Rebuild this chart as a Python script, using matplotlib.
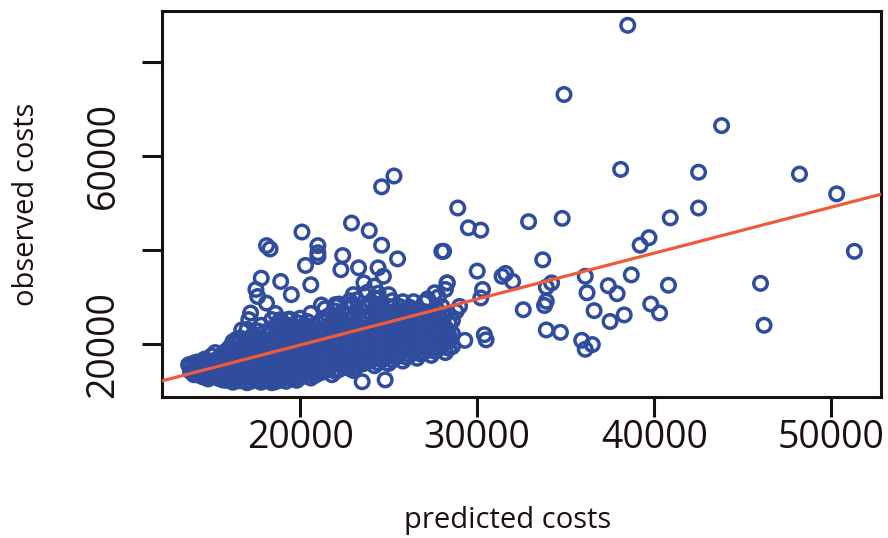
import matplotlib
matplotlib.use("Agg")
import matplotlib.pyplot as plt

# dense band of cases: predicted cost -> observed costs
band_columns = [
    (13800, [14200, 15600]),
    (14200, [13500, 15000, 16200]),
    (14600, [12900, 14000, 15300, 16800]),
    (15000, [13200, 14600, 16000, 17500]),
    (15400, [12700, 14100, 15500, 17000]),
    (15800, [12300, 13800, 15200, 16800, 18500]),
    (16200, [11900, 13500, 15000, 16600, 18200, 20000]),
    (16600, [12200, 13900, 15500, 17200, 19100, 21300]),
    (17000, [11800, 13400, 15100, 16800, 18600, 20500, 23100]),
    (17400, [12500, 14200, 15900, 17700, 19500, 22000]),
    (17800, [11900, 13600, 15400, 17300, 19200, 21200, 24000]),
    (18200, [12400, 14300, 16200, 18100, 20100, 22300]),
    (18600, [12000, 13800, 15700, 17600, 19600, 21600, 23800, 26500]),
    (19000, [12600, 14500, 16400, 18400, 20400, 22500]),
    (19400, [13000, 15000, 17000, 19000, 21000, 23200, 25300]),
    (19800, [12300, 14200, 16300, 18300, 20300, 22400, 24600]),
    (20200, [13300, 15400, 17500, 19600, 21700, 23900]),
    (20600, [12800, 14800, 16900, 19000, 21100, 23300, 26500]),
    (21000, [13700, 15800, 17900, 20000, 22200, 24400]),
    (21400, [14300, 16400, 18500, 20700, 22900, 25100, 27500]),
    (21800, [13500, 15600, 17800, 20000, 22200, 24500]),
    (22200, [14600, 16800, 19000, 21200, 23500, 25800, 28500]),
    (22600, [15100, 17300, 19500, 21800, 24100, 26400]),
    (23000, [14400, 16600, 18900, 21200, 23500, 25900, 28300, 30500]),
    (23400, [15700, 18000, 20300, 22600, 25000, 27400]),
    (23800, [16200, 18500, 20800, 23200, 25600, 28000, 31000]),
    (24200, [15400, 17700, 20100, 22500, 24900, 27300, 29800]),
    (24600, [16600, 19000, 21400, 23800, 26200, 28600]),
    (25000, [15900, 18200, 20600, 23000, 25500, 28000, 30500]),
    (25400, [17200, 19600, 22000, 24500, 27000]),
    (25800, [16400, 18800, 21300, 23800, 26300, 29000]),
    (26200, [17700, 20200, 22700, 25200, 27800]),
    (26600, [17000, 19500, 22000, 24600, 27200]),
    (27000, [18300, 20800, 23400, 26000, 28800]),
    (27400, [17600, 20100, 22700, 25300]),
    (27800, [19000, 21600, 24200, 27000, 30000]),
    (28200, [18200, 20800, 23500, 26200]),
    (28600, [19500, 22200, 25000]),
    # second pass over the same band, between the first columns
    (14000, [14600, 16000]),
    (14400, [13200, 14500, 15800]),
    (14800, [12600, 13700, 15000, 16400]),
    (15200, [13800, 15200, 16600, 18200]),
    (15600, [12400, 13400, 14900, 16300, 17800]),
    (16000, [12600, 14200, 15700, 17400, 19200]),
    (16400, [12200, 13100, 14600, 16100, 17800, 21000]),
    (16800, [12900, 14500, 16200, 18100, 20100]),
    (17200, [12100, 13800, 15500, 17300, 19300, 21400]),
    (17600, [12200, 13200, 14900, 16700, 18600, 20600, 22800]),
    (18000, [12600, 14400, 16300, 18200, 20200, 22600]),
    (18400, [11800, 13200, 15100, 17000, 19000, 21100]),
    (18800, [12300, 13600, 15400, 17400, 19400, 21500, 24700]),
    (19200, [12100, 13900, 15900, 17900, 20000, 22000, 24100]),
    (19600, [12700, 14600, 16600, 18700, 20800, 23300]),
    (20000, [12900, 14800, 16900, 19000, 21100, 23200, 25500]),
    (20400, [13800, 15900, 18100, 20200, 22400, 24800]),
    (20800, [13300, 15300, 17400, 19500, 21700, 24000]),
    (21200, [14000, 16100, 18200, 20400, 22600, 25000, 28300]),
    (21600, [14800, 17000, 19200, 21400, 23700, 26000]),
    (22000, [14200, 16300, 18500, 20700, 23000, 25300, 27000]),
    (22400, [15300, 17500, 19800, 22100, 24500, 26900]),
    (22800, [14800, 16900, 19200, 21500, 23900, 26300, 29200]),
    (23200, [15300, 17500, 19800, 22100, 24500, 27000, 29400]),
    (23600, [15900, 18200, 20600, 23000, 25400, 27900]),
    (24000, [16600, 19000, 21400, 23900, 26400, 29000]),
    (24400, [16000, 18400, 20800, 23200, 25700, 28200, 30800]),
    (24800, [17100, 19500, 22000, 24500, 27100]),
    (25200, [16600, 19000, 21500, 24000, 26500, 29200]),
    (25600, [17800, 20300, 22800, 25400, 28000]),
    (26000, [17200, 19700, 22200, 24800, 27500]),
    (26400, [18400, 21000, 23600, 26300, 29000]),
    (26800, [17900, 20400, 23000, 25700]),
    (27200, [18900, 21500, 24100, 26800, 29600]),
    (27600, [18500, 21100, 23800, 26500]),
    (28000, [19800, 22400, 25100, 28000]),
    (28400, [19100, 21800, 24500]),
]

# scattered cases outside the dense band
scatter_predicted = [
    38500, 34900, 43800, 38100, 42500, 48200, 50300, 51300, 28900, 29500,
    30200, 32900, 34800, 40900, 42500, 39700, 39200, 28100, 33700, 38700,
    40800, 46000, 46200, 36100, 36200, 37400, 37900, 36600, 37500, 38300,
    39800, 40300, 35900, 36100, 36500, 33900, 34700, 33900, 33800, 34200,
    33900, 32600, 31400, 31600, 32000, 30000, 30300, 30200, 30400, 30500,
    29300, 28300, 28200, 29000, 28800, 28300, 28400,
    25300, 24600, 22900, 23900, 20100, 24600, 25500, 28000, 18100, 18300,
    21000, 21000, 21000, 20300, 22400, 22300, 23300, 24400, 17800, 18900,
    19500, 20600, 17500, 17600, 18100, 17200, 17100, 16700, 16200, 19300,
    18900, 18400, 22000, 22000, 23600, 24200, 24700, 27600, 28300, 23500,
    24800, 13700, 14000, 23600, 24900,
]
scatter_observed = [
    87700, 73000, 66400, 57100, 56500, 56100, 51900, 39700, 48900, 44700,
    44200, 46000, 46700, 46800, 48900, 42600, 41000, 39700, 37900, 34700,
    32500, 32900, 24000, 34400, 30900, 32400, 30700, 27100, 24800, 26200,
    28500, 26600, 20800, 18900, 19900, 23000, 22500, 29100, 28200, 33000,
    32100, 27300, 34400, 35000, 33300, 35500, 31600, 29800, 22000, 20900,
    20800, 33000, 31600, 28000, 26900, 23000, 20600,
    55700, 53400, 45700, 44100, 43800, 41000, 38100, 39700, 40900, 40200,
    40900, 39400, 38600, 36700, 38800, 35800, 36200, 36200, 34000, 33300,
    30500, 32600, 31600, 30100, 28700, 26600, 25200, 23000, 20500, 25200,
    25200, 25200, 28000, 28400, 33000, 32300, 34400, 30900, 33000, 12000,
    12400, 15600, 13500, 16000, 16000,
]

# fitted line observed = intercept + slope * predicted
fit_intercept = 280
fit_slope = 0.976

x_ticks = [20000, 30000, 40000, 50000]
x_tick_labels = ["20000", "30000", "40000", "50000"]
y_ticks = [20000, 40000, 60000, 80000]
y_tick_labels = ["20000", "", "60000", ""]

predicted = [x for x, ys in band_columns for _ in ys] + scatter_predicted
observed = [y for _, ys in band_columns for y in ys] + scatter_observed


def padded(values, frac=0.04):
    lo, hi = min(values), max(values)
    pad = (hi - lo) * frac
    return lo - pad, hi + pad


plt.rcParams["font.family"] = ["Open Sans", "DejaVu Sans"]

fig = plt.figure(figsize=(8.88, 5.38), dpi=100)
ax = fig.add_axes([162 / 888, 1 - 397 / 538, 719 / 888, 386 / 538])

ax.scatter(predicted, observed, s=95, facecolors="none",
           edgecolors="#2f4d9c", linewidths=2.5, zorder=2)
ax.axline((0, fit_intercept), slope=fit_slope, color="#ef5a3a", lw=2.3, zorder=3)
ax.set_xlim(*padded(predicted))
ax.set_ylim(*padded(observed))

ax.set_xticks(x_ticks)
ax.set_xticklabels(x_tick_labels)
ax.set_yticks(y_ticks)
ax.set_yticklabels(y_tick_labels, rotation=90, va="center")

ax.tick_params(axis="both", length=14.5, width=2.2, color="#1a1010",
               labelsize=27, labelcolor="#1a1010")
ax.tick_params(axis="x", pad=1)
ax.tick_params(axis="y", pad=14)
for side in ax.spines.values():
    side.set_linewidth(2.2)
    side.set_color("#1a1010")

ax.set_xlabel("predicted costs", fontsize=21, color="#1a1010", va="center")
ax.xaxis.set_label_coords(0.48, -0.319)
ax.set_ylabel("observed costs", fontsize=21, color="#1a1010", va="center")
ax.yaxis.set_label_coords(-0.188, 0.5)

fig.savefig("out.png", dpi=100, facecolor="white")
